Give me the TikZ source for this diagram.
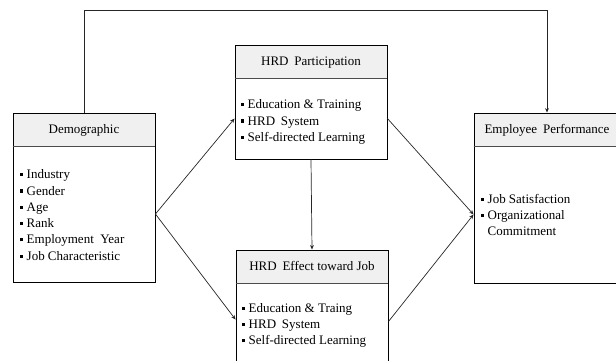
\documentclass[tikz,border=0pt]{standalone}
\usepackage{fontspec}
\setmainfont{Liberation Serif}
\usetikzlibrary{arrows.meta,calc}
\newcommand{\bul}{\rule[2.5pt]{3.2pt}{3.2pt}\hspace{3.8pt}}
\newcommand{\nobul}{\hspace{7pt}}
\begin{document}
\begin{tikzpicture}[x=1pt,y=-1pt,
  hdr/.style={draw=black, fill=gray!12, line width=0.9pt, inner sep=0pt, text height=9pt, text depth=0.8pt, font=\fontsize{13}{16}\selectfont},
  bodybox/.style={draw=black, line width=0.9pt, inner sep=0pt},
  sep/.style={draw=black!70, line width=1.4pt},
  itemlist/.style={inner sep=0pt, align=left, anchor=north west, font=\fontsize{13}{16.3}\selectfont},
  conn/.style={draw=black!85, line width=0.7pt},
  arr/.style={conn, -{Stealth[length=4.5pt,width=3.8pt]}}]
\useasboundingbox (0,0) rectangle (616,360);

% Demographic
\node[bodybox, minimum width=142, minimum height=136] (demobody) at (84,214) {};
\node[hdr, minimum width=142, minimum height=33] (demohdr) at (84,129.5) {Demographic};
\draw[sep] (demohdr.south west) -- (demohdr.south east);
\node[itemlist] (demolist) at (19.5,169.5) {\bul Industry\\ \bul Gender\\ \bul Age\\ \bul Rank\\ \bul Employment\hspace{0.5em}Year\\ \bul Job Characteristic};

% HRD Participation
\node[bodybox, minimum width=152, minimum height=81] (partbody) at (311,118.5) {};
\node[hdr, minimum width=152, minimum height=33] (parthdr) at (311,61.5) {HRD\hspace{0.45em}Participation};
\draw[sep] (parthdr.south west) -- (parthdr.south east);
\node[itemlist] (partlist) at (240.5,99.5) {\bul Education \& Training\\ \bul HRD\hspace{0.45em}System\\ \bul Self-directed Learning};

% HRD Effect toward Job
\node[bodybox, minimum width=152, minimum height=97] (effbody) at (312,331.5) {};
\node[hdr, minimum width=152, minimum height=33] (effhdr) at (312,266.5) {HRD\hspace{0.45em}Effect toward Job};
\draw[sep] (effhdr.south west) -- (effhdr.south east);
\node[itemlist] (efflist) at (241.5,303) {\bul Education \& Traing\\ \bul HRD\hspace{0.45em}System\\ \bul Self-directed Learning};

% Employee Performance
\node[bodybox, minimum width=146, minimum height=137] (empbody) at (547,214.5) {};
\node[hdr, minimum width=146, minimum height=33] (emphdr) at (547,129.5) {Employee\hspace{0.45em}Performance};
\draw[sep] (emphdr.south west) -- (emphdr.south east);
\node[itemlist] (emplist) at (480.5,194) {\bul Job Satisfaction\\ \bul Organizational\\ \nobul Commitment};

% connectors
\coordinate (effin) at ($(effbody.north west)+(0,37)$);
\coordinate (effout) at ($(effbody.north east)+(0,39)$);
\draw[arr] (demobody.east) -- (partbody.west);
\draw[arr] (demobody.east) -- (effin);
\draw[arr] (partbody.east) -- (empbody.west);
\draw[arr] (effout) -- (empbody.west);
\draw[arr] (partbody.south) -- (effhdr.north);
\draw[arr] (demohdr.north) -- ++(0,-102) -| (emphdr.north);
\end{tikzpicture}
\end{document}
